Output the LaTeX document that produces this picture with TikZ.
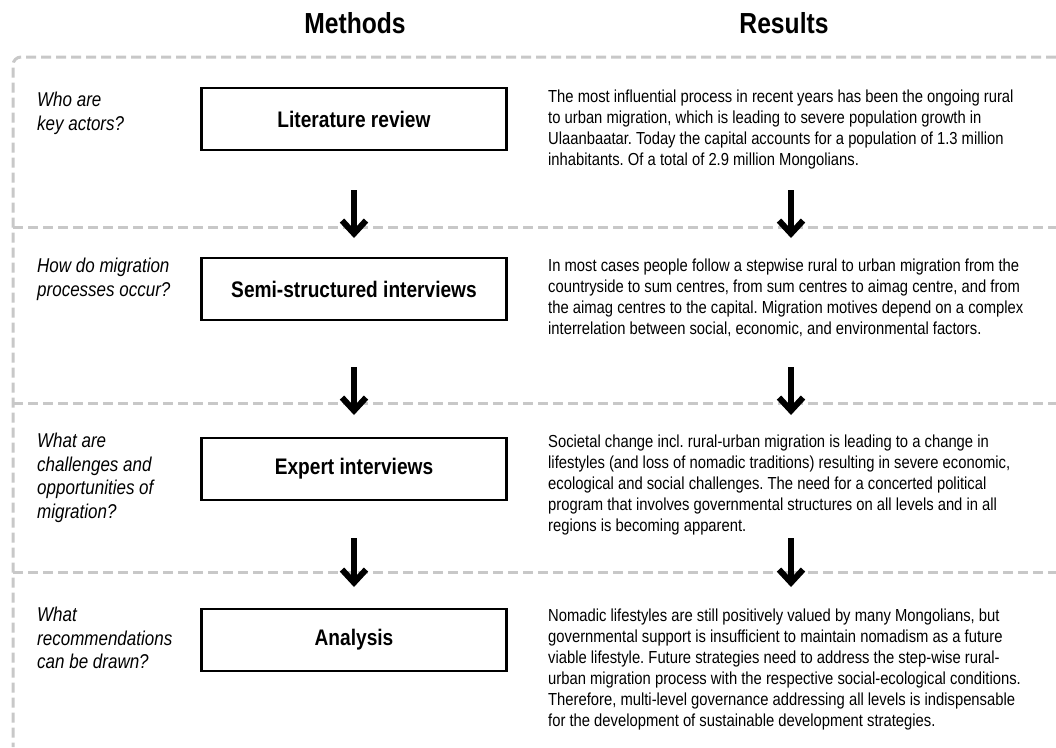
\documentclass[tikz,border=0pt]{standalone}
\usepackage{fontspec}
\setmainfont{Liberation Sans}[FakeStretch=0.85]
\usepackage{xcolor}
\definecolor{rulegray}{RGB}{200, 200, 200}
\usetikzlibrary{arrows.meta}
\frenchspacing

\begin{document}
\begin{tikzpicture}[x=1pt, y=-1pt,
  heading/.style={anchor=base, font=\bfseries\fontsize{29}{32}\selectfont},
  method/.style={rectangle, draw, line width=2.5pt, minimum width=305pt, minimum height=62pt, font=\bfseries\fontsize{22.5}{25}\selectfont},
  question/.style={anchor=north west, inner sep=0pt, align=left, font=\itshape\fontsize{20}{23.5}\selectfont},
  result/.style={anchor=north west, inner sep=0pt, align=left, font=\fontsize{17.4}{21}\selectfont},
  sep/.style={draw=rulegray, line width=3pt, dash pattern=on 10pt off 5pt},
  arr/.style={line width=6pt, -{Straight Barb[length=13pt, width=24pt]}}
]
  \useasboundingbox (0,0) rectangle (1056,747);

  \node[heading] (hmeth) at (355,33) {Methods};
  \node[heading] (hres) at (784,33) {Results};

  \draw[sep, rounded corners=8pt] (1056,57) -- (13,57) -- (13,747);
  \foreach \y in {227, 403, 572}
    \draw[sep] (13,\y) -- (1056,\y);

  \node[question] (q1) at (37,92) {Who are\\key actors?};
  \node[question] (q2) at (37,258) {How do migration\\processes occur?};
  \node[question] (q3) at (37,433) {What are\\challenges and\\opportunities of\\migration?};
  \node[question] (q4) at (37,607) {What\\recommendations\\can be drawn?};

  \node[method] (lit) at (354,119) {Literature review};
  \node[method] (semi) at (354,289) {Semi-structured interviews};
  \node[method] (expert) at (354,469) {Expert interviews};
  \node[method] (analysis) at (354,640) {Analysis};

  \node[result] (r1) at (548,90) {The most influential process in recent years has been the ongoing rural\\to urban migration, which is leading to severe population growth in\\Ulaanbaatar. Today the capital accounts for a population of 1.3 million\\inhabitants. Of a total of 2.9 million Mongolians.};
  \node[result] (r2) at (548,259) {In most cases people follow a stepwise rural to urban migration from the\\countryside to sum centres, from sum centres to aimag centre, and from\\the aimag centres to the capital. Migration motives depend on a complex\\interrelation between social, economic, and environmental factors.};
  \node[result] (r3) at (548,435) {Societal change incl. rural-urban migration is leading to a change in\\lifestyles (and loss of nomadic traditions) resulting in severe economic,\\ecological and social challenges. The need for a concerted political\\program that involves governmental structures on all levels and in all\\regions is becoming apparent.};
  \node[result] (r4) at (548,609) {Nomadic lifestyles are still positively valued by many Mongolians, but\\governmental support is insufficient to maintain nomadism as a future\\viable lifestyle. Future strategies need to address the step-wise rural-\\urban migration process with the respective social-ecological conditions.\\Therefore, multi-level governance addressing all levels is indispensable\\for the development of sustainable development strategies.};

  \foreach \ya/\yb [count=\i] in {190/238, 367/415, 538/587} {
    \coordinate (ma\i) at (354,\ya);
    \coordinate (mb\i) at (354,\yb);
    \coordinate (ra\i) at (791,\ya);
    \coordinate (rb\i) at (791,\yb);
    \draw[arr] (ma\i) -- (mb\i);
    \draw[arr] (ra\i) -- (rb\i);
  }
\end{tikzpicture}
\end{document}
